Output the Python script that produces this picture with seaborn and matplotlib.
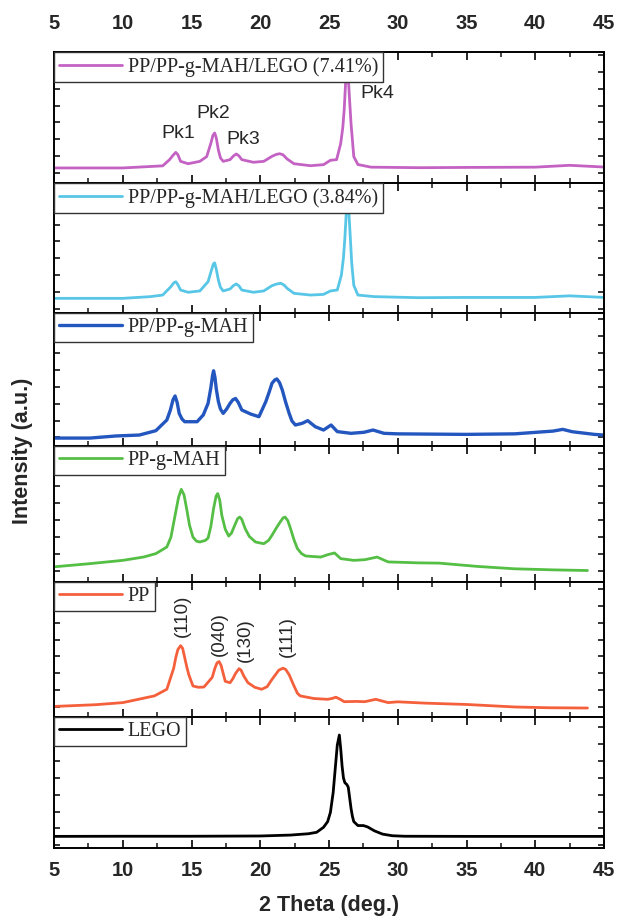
import matplotlib
matplotlib.use("Agg")
import matplotlib.pyplot as plt
import seaborn as sns
import numpy as np

# ---------------- data ----------------
names = ["PP/PP-g-MAH/LEGO (7.41%)", "PP/PP-g-MAH/LEGO (3.84%)", "PP/PP-g-MAH",
         "PP-g-MAH", "PP", "LEGO"]
colors = ["#C462C4", "#58C6E6", "#2356BE", "#55BE45", "#F5603C", "#000000"]

x_violet = [5, 10, 12.9, 13.4, 13.65, 13.85, 14.0, 14.2, 14.75, 15.6, 16.1, 16.4, 16.55,
            16.68, 16.8, 16.95, 17.1, 17.3, 17.8, 18.05, 18.25, 18.45, 18.65, 19.5, 20.25,
            20.85, 21.15, 21.4, 21.65, 21.95, 22.45, 23.65, 24.6, 25.1, 25.55, 25.85, 26.0,
            26.1, 26.2, 26.3, 26.4, 26.5, 26.6, 26.8, 27.1, 28.05, 31.5, 35, 40, 42.5, 45]
y_violet = [11.4, 11.4, 13, 17.7, 21, 23.2, 21.5, 16.4, 14.6, 16.4, 20, 30, 36,
            37.9, 34, 25, 19, 16.4, 17.7, 20.5, 22, 20.5, 17.7, 15.7, 16.4,
            20.2, 21.6, 22.2, 21.4, 18.2, 14.6, 13.1, 13.9, 17.2, 17.7, 30, 42,
            55, 75, 90, 80, 62, 45, 20, 14, 12, 11.6, 11.8, 12, 13.4, 12.1]

x_cyan = [5, 10, 12, 12.9, 13.5, 13.7, 13.85, 14.0, 14.2, 14.75, 15.6, 16.2, 16.45, 16.58,
          16.68, 16.8, 16.95, 17.1, 17.3, 17.8, 18.05, 18.25, 18.45, 18.65, 19.5, 20.25,
          20.85, 21.2, 21.5, 21.75, 21.95, 22.45, 23.65, 24.6, 25.1, 25.6, 25.9, 26.05,
          26.15, 26.25, 26.35, 26.45, 26.55, 26.65, 26.8, 27.1, 28.3, 31.5, 35, 40, 42.5, 45]
y_cyan = [11.1, 11.1, 12.4, 13.6, 20, 22.8, 23.7, 21.5, 17.4, 15.7, 16.7, 23.7, 32.6, 37,
          38, 33, 25, 19.5, 16.7, 18.2, 20.8, 22, 20.5, 17.4, 15.7, 16.7,
          20.7, 22, 22.5, 21, 18.7, 14.9, 13.6, 14.1, 16.7, 17.4, 28.8, 42,
          56.6, 75, 88, 75, 56.6, 38, 21, 13.6, 12.4, 11.6, 11.8, 11.8, 13, 11.8]

x_blue = [5, 7.6, 9.5, 11.2, 12.4, 13.2, 13.45, 13.65, 13.8, 13.95, 14.1, 14.3, 14.5, 15.4,
          15.85, 16.2, 16.4, 16.52, 16.6, 16.7, 16.8, 16.95, 17.1, 17.3, 17.55, 17.8, 18.0,
          18.2, 18.4, 18.65, 19.3, 19.9, 20.4, 20.65, 20.85, 21.05, 21.2, 21.4, 21.6, 21.85,
          22.1, 22.3, 22.55, 23.05, 23.45, 24.0, 24.6, 25.15, 25.6, 26.6, 27.55, 28.2, 29.0,
          30, 35, 38.5, 41.3, 42, 42.7, 44.3, 45]
y_blue = [6, 6, 7.6, 8.3, 11.6, 19.7, 27, 35, 37.9, 33, 24.7, 20.5, 18.4, 18.4,
          23.5, 32.3, 44, 53, 57, 52, 43, 33.6, 28, 24.7, 28, 32.3, 35,
          36, 33, 27.3, 24.2, 22.2, 33.6, 41, 47.5, 50, 50.8, 48, 42.4, 33,
          24.7, 19, 15.9, 17.2, 19.2, 14.6, 12.1, 15.9, 10.9, 9.6, 10.4, 12.1, 9.6,
          9.2, 8.8, 9.2, 11.3, 12.6, 10.8, 8.8, 8.3]

x_green = [5, 7.6, 10, 11.5, 12.4, 13.2, 13.5, 13.8, 14.05, 14.25, 14.45, 14.65, 14.85, 15.1,
           15.35, 15.6, 16.0, 16.2, 16.4, 16.6, 16.78, 16.9, 17.05, 17.2, 17.45, 17.7, 17.9,
           18.1, 18.35, 18.5, 18.65, 18.9, 19.2, 19.65, 20.25, 20.6, 20.85, 21.2, 21.45,
           21.65, 21.8, 22.0, 22.2, 22.45, 22.7, 23.0, 23.3, 24.4, 24.9, 25.4, 25.85, 26.8,
           27.6, 28.5, 29.3, 30, 31.5, 33, 35.8, 38.5, 41.3, 43.8]
y_green = [11.5, 13.9, 16.4, 18.9, 21.5, 26.5, 34, 50.5, 64, 70.2, 66, 55, 43, 34,
           31, 30.3, 31.5, 33.3, 42, 55.6, 65, 67, 62, 50.5, 40, 34.8, 37,
           42, 48, 49.2, 47.5, 40.4, 34.5, 30.3, 29, 31.5, 35.4, 41.5, 45.5,
           48.5, 49.2, 46.5, 40.4, 32, 25.3, 21.5, 19.7, 18.9, 20.7, 22, 17.7, 16.4,
           16.9, 18.9, 15.2, 15, 14.5, 14.3, 11.8, 10, 9.2, 8.7]

x_pp = [5, 8, 10, 12.3, 13.2, 13.7, 13.85, 14.0, 14.2, 14.35, 14.5, 14.65, 14.8, 15.1, 15.5,
        15.9, 16.5, 16.7, 16.85, 17.0, 17.15, 17.3, 17.45, 17.8, 18.0, 18.2, 18.45, 18.6,
        18.8, 19.1, 19.6, 20.1, 20.5, 20.85, 21.1, 21.35, 21.65, 21.85, 22.1, 22.4, 22.7,
        22.9, 23.9, 24.9, 25.2, 25.5, 25.8, 26.1, 27.0, 27.6, 28.0, 28.4, 28.9, 29.3,
        30, 32, 35, 38.5, 41, 43.8]
y_pp = [8, 9.3, 10.9, 16, 21, 37, 45, 51, 54, 52, 45, 38, 32, 23.5, 22.5,
        22.7, 30, 37, 41, 42, 39, 33, 27, 26, 29, 33, 36.6, 35.5,
        31, 26, 22.5, 21, 23, 28.5, 32, 35.5, 37, 36, 32, 24.7, 18,
        16, 14, 13.4, 14, 15, 13.5, 11.6, 11.8, 11.6, 12.5, 13.4, 12, 10.9,
        11.5, 10.5, 9.5, 7.6, 7, 6.8]

x_lego = [5, 10, 15, 20, 22.2, 23.5, 24.1, 24.6, 24.9, 25.1, 25.3, 25.45, 25.6, 25.75, 25.85,
          25.95, 26.05, 26.15, 26.3, 26.4, 26.5, 26.6, 26.7, 26.8, 27.1, 27.5, 27.8, 28.3,
          28.9, 29.6, 30.5, 35, 40, 45]
y_lego = [8.8, 8.9, 8.9, 9.1, 9.8, 10.8, 11.9, 15.7, 20, 27, 42, 60, 78, 85.6, 75,
          62, 53, 49.5, 48, 46, 38, 30, 24, 20, 17, 17, 16, 13,
          10.5, 9.3, 8.9, 8.8, 8.8, 8.8]

series_x = [x_violet, x_cyan, x_blue, x_green, x_pp, x_lego]
series_y = [y_violet, y_cyan, y_blue, y_green, y_pp, y_lego]

x_ticks = [5, 10, 15, 20, 25, 30, 35, 40, 45]
pk_labels = ["Pk1", "Pk2", "Pk3", "Pk4"]
hkl_labels = ["(110)", "(040)", "(130)", "(111)"]

# ---------------- style ----------------
sns.set_theme(style="ticks")
plt.rcParams["font.family"] = ["Liberation Sans", "DejaVu Sans"]
plt.rcParams["axes.linewidth"] = 1.4

panel_h = [131, 130, 133, 136, 135, 131]
fig = plt.figure(figsize=(6.22, 9.21), dpi=100)
axes = fig.subplots(6, 1, sharex=True, gridspec_kw=dict(hspace=0, height_ratios=panel_h))
fig.subplots_adjust(left=0.087, right=0.971, top=1 - 52 / 921, bottom=1 - 848 / 921)

tick_start = [7.5, 3.0, 6.5, 8.5, 7.5, 2.0]

for i, ax in enumerate(axes):
    sns.lineplot(x=series_x[i], y=series_y[i], ax=ax, color=colors[i],
                 lw=2.0 if i != 2 else 2.4, estimator=None, sort=False, label=names[i])
    ax.set_xlim(5, 45)
    top = panel_h[i] / 1.32
    ax.set_ylim(0, top)
    ax.set_xticks(x_ticks)
    ax.set_xticks(np.arange(7.5, 45, 5), minor=True)
    ax.set_yticks(np.arange(tick_start[i], top, 12.8))
    ax.set_yticklabels([])
    ax.tick_params(axis="x", which="major", direction="in", length=6, width=1.4,
                   top=True, bottom=True, labelbottom=False, labeltop=False)
    ax.tick_params(axis="x", which="minor", direction="in", length=3.5, width=1.2,
                   top=True, bottom=True)
    ax.tick_params(axis="y", which="major", direction="in", length=4.5, width=1.3,
                   left=True, right=True)
    ax.set_ylabel("")
    ax.set_xlabel("")
    for s in ax.spines.values():
        s.set_color("black")
    leg = ax.legend(loc="upper left", borderaxespad=0.0, frameon=True, fancybox=False,
                    handlelength=3.1, handletextpad=0.3, borderpad=0.25,
                    prop={"family": ["Liberation Serif"], "size": 14.5})
    leg.get_frame().set_edgecolor("#333333")
    leg.get_frame().set_linewidth(1.0)
    leg.get_frame().set_alpha(1.0)
    leg.set_zorder(5)

# tick labels: top of first, bottom of last
axes[0].tick_params(axis="x", which="major", labeltop=True, pad=14)
axes[-1].tick_params(axis="x", which="major", labelbottom=True, pad=9)
for ax in (axes[0], axes[-1]):
    for lab in ax.get_xticklabels():
        lab.set_fontweight("bold")
        lab.set_fontsize(14.5)

axes[-1].set_xlabel("2 Theta (deg.)", fontsize=15.5, fontweight="bold", labelpad=11)
fig.text(0.036, 0.51, "Intensity (a.u.)", rotation=90, fontsize=15.5, fontweight="bold",
         ha="center", va="center")

# peak annotations
pk_pos = [(14.0, 37.5), (16.6, 52.5), (18.75, 33), (28.5, 68)]
for lab, (px, py) in zip(pk_labels, pk_pos):
    axes[0].text(px, py, lab, ha="center", va="center", fontsize=14,
                 family=["Liberation Sans", "DejaVu Sans"])

hkl_pos = [(14.3, 77), (17.0, 63), (18.9, 58), (21.95, 61)]
for lab, (px, py) in zip(hkl_labels, hkl_pos):
    axes[4].text(px, py, lab, ha="center", va="center", rotation=90, fontsize=13.5,
                 family=["Liberation Sans", "DejaVu Sans"])

fig.savefig("out.png", dpi=100, facecolor="white")
